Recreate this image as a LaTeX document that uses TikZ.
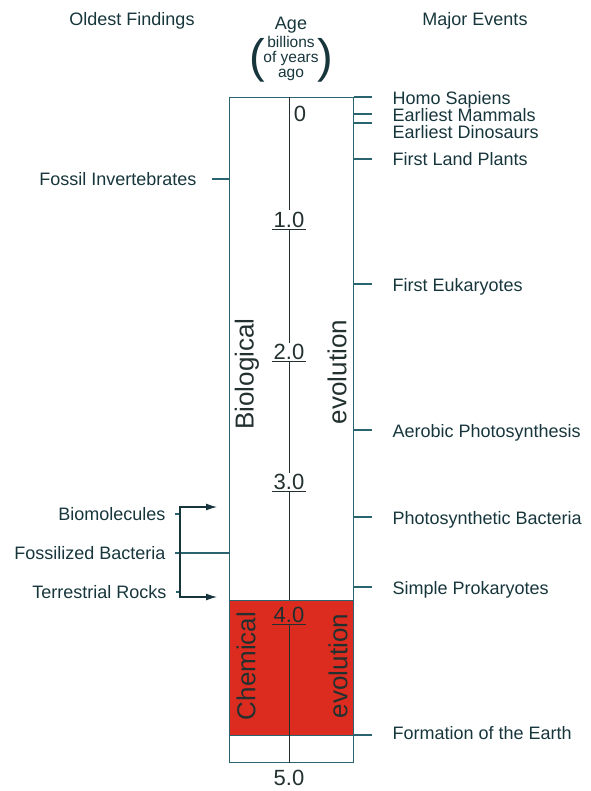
\documentclass[tikz,border=0pt]{standalone}
\usepackage{fontspec}
\setmainfont{Liberation Sans}
\usetikzlibrary{arrows.meta, positioning}
\definecolor{tline}{HTML}{2A6470}
\definecolor{ttext}{HTML}{17363C}
\definecolor{chemred}{HTML}{DC2B1F}
\definecolor{scalec}{HTML}{22302F}

\begin{document}
\begin{tikzpicture}[x=1pt, y=-1pt, line width=1.2pt,
  lbl/.style={inner sep=0pt, text=ttext, text height=12.8pt, text depth=0pt,
              font=\fontsize{18}{20}\selectfont},
  evt/.style={lbl, anchor=west},
  find/.style={lbl, anchor=east},
  small/.style={inner sep=0pt, text=ttext, anchor=base,
                font=\fontsize{15.5}{16}\selectfont},
  paren/.style={inner sep=0pt, text=ttext, font=\fontsize{47}{47}\selectfont},
  agelbl/.style={inner xsep=1pt, inner ysep=1pt, text height=15.8pt, text depth=0pt,
                 text=scalec, font=\fontsize{22}{24}\selectfont},
  era/.style={inner sep=0pt, rotate=90, text=scalec,
              font=\fontsize{26}{28}\selectfont},
  tickln/.style={draw=tline},
  scaleln/.style={draw=scalec, line width=1pt},
  arr/.style={{Latex[length=11pt,width=7pt]}-{Latex[length=11pt,width=7pt]}, draw=ttext},
]
  \useasboundingbox (0,0) rectangle (590,791);

  % headings
  \node[lbl, anchor=base] (oldh) at (132,26) {Oldest Findings};
  \node[lbl, anchor=base] (ageh) at (291,30) {Age};
  \node[lbl, anchor=base] (majh) at (475,26) {Major Events};
  \node[small] (bil) at (291,48) {billions};
  \node[small] (ofy) at (291,63) {of years};
  \node[small] (ago) at (291,78) {ago};
  \node[paren] (lp) at (257,60) {(};
  \node[paren] (rp) at (325,60) {)};

  % the time column
  \node[draw=tline, fill=chemred, minimum width=124pt, minimum height=135pt,
        inner sep=0pt, anchor=north west] (chem) at (229,600) {};
  \node[draw=tline, minimum width=124pt, minimum height=665pt,
        inner sep=0pt, anchor=north west] (col) at (229,97) {};

  % age scale
  \node[agelbl] (a0) at (300,114) {0};
  \foreach \a/\yy in {1/220, 2/352, 3/482, 4/615} {
    \node[agelbl] (a\a) at (289,\yy) {\a.0};
    \draw[scaleln] (a\a.south west) -- (a\a.south east);
  }
  \node[agelbl] (a5) at (289,778) {5.0};
  \draw[scaleln] (a1 |- col.north) -- (a1.north);
  \draw[scaleln] (a1.south) -- (a2.north);
  \draw[scaleln] (a2.south) -- (a3.north);
  \draw[scaleln] (a3.south) -- (a3 |- chem.north);
  \draw[scaleln] (a4.south) -- (a4 |- col.south);

  \node[era] (biol) at (247,374) {Biological};
  \node[era] (evob) at (337,372) {evolution};
  \node[era] (chml) at (246,666) {Chemical};
  \node[era] (evoc) at (338,666) {evolution};

  % major events
  \foreach \n/\ty/\yy/\t in {hom/97/98/Homo Sapiens,
      mam/114/115/Earliest Mammals, dino/123/132/Earliest Dinosaurs,
      land/159/159/First Land Plants, euk/284/285/First Eukaryotes,
      aer/430/431/Aerobic Photosynthesis, phb/517/518/Photosynthetic Bacteria,
      pro/587/588/Simple Prokaryotes, earth/735/733/Formation of the Earth} {
    \node[evt] (\n) at (392,\yy) {\t};
    \draw[tickln] (col.east |- 0,\ty) -- ([xshift=-20pt]\n.west |- 0,\ty);
  }

  % oldest findings
  \node[find] (finv) at (197,179) {Fossil Invertebrates};
  \node[find] (bio)  at (166,514) {Biomolecules};
  \node[find] (fosb) at (166,553) {Fossilized Bacteria};
  \node[find] (terr) at (167,592) {Terrestrial Rocks};
  \coordinate (brk) at (180,553);
  \coordinate (bioin) at (217,507);
  \coordinate (terrin) at (217,597);

  \draw[tickln] ([xshift=15pt]finv.east) -- (col.west |- finv.east);
  \draw[tickln] ([xshift=9pt]fosb.east) -- (col.west |- fosb.east);
  \draw[tickln] ([xshift=9pt]bio.east) -- (brk |- bio.east);
  \draw[tickln] ([xshift=9pt]terr.east) -- (brk |- terr.east);
  \draw[arr] (terrin) -| (brk) |- (bioin);
\end{tikzpicture}
\end{document}
